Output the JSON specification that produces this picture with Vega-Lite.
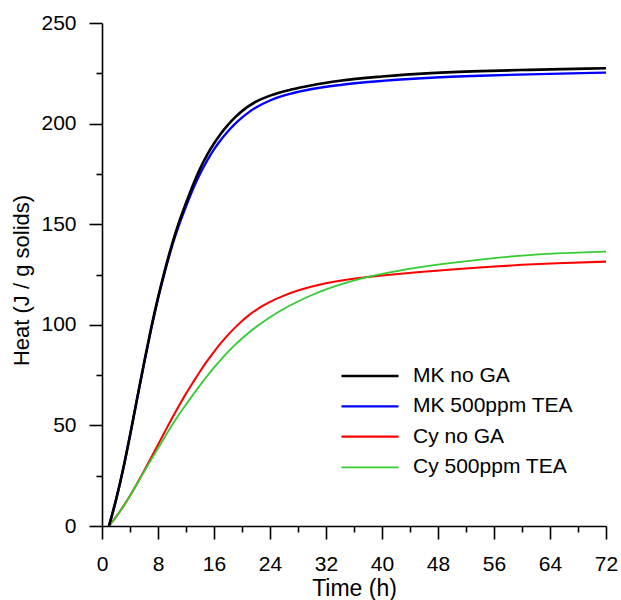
{
  "$schema": "https://vega.github.io/schema/vega-lite/v6.json",
  "width": 504,
  "height": 503,
  "autosize": "none",
  "padding": {"left": 102, "top": 23, "right": 15, "bottom": 74},
  "background": "white",
  "config": {
    "view": {"stroke": null},
    "font": "Liberation Sans",
    "axis": {
      "grid": false,
      "domainColor": "black",
      "domainWidth": 1.6,
      "tickColor": "black",
      "tickWidth": 1.6,
      "labelColor": "black",
      "titleColor": "black",
      "labelFont": "Liberation Sans",
      "titleFont": "Liberation Sans",
      "labelFontSize": 21,
      "titleFontSize": 22,
      "titleFontWeight": "normal"
    }
  },
  "datasets": {
    "curves": [
      {"series": "MK no GA", "t": 1, "heat": 0},
      {"series": "MK no GA", "t": 2, "heat": 13},
      {"series": "MK no GA", "t": 3, "heat": 28},
      {"series": "MK no GA", "t": 4, "heat": 45},
      {"series": "MK no GA", "t": 5, "heat": 63},
      {"series": "MK no GA", "t": 6, "heat": 81},
      {"series": "MK no GA", "t": 7, "heat": 98},
      {"series": "MK no GA", "t": 8, "heat": 113.5},
      {"series": "MK no GA", "t": 9, "heat": 127.5},
      {"series": "MK no GA", "t": 10, "heat": 140},
      {"series": "MK no GA", "t": 11, "heat": 151},
      {"series": "MK no GA", "t": 12, "heat": 160.5},
      {"series": "MK no GA", "t": 13, "heat": 169.5},
      {"series": "MK no GA", "t": 14, "heat": 177.5},
      {"series": "MK no GA", "t": 15, "heat": 184.3},
      {"series": "MK no GA", "t": 16, "heat": 190.1},
      {"series": "MK no GA", "t": 17, "heat": 195.1},
      {"series": "MK no GA", "t": 18, "heat": 199.4},
      {"series": "MK no GA", "t": 19, "heat": 203.1},
      {"series": "MK no GA", "t": 20, "heat": 206.2},
      {"series": "MK no GA", "t": 21, "heat": 208.8},
      {"series": "MK no GA", "t": 22, "heat": 210.9},
      {"series": "MK no GA", "t": 24, "heat": 213.9},
      {"series": "MK no GA", "t": 27, "heat": 216.9},
      {"series": "MK no GA", "t": 30, "heat": 219.1},
      {"series": "MK no GA", "t": 34, "heat": 221.3},
      {"series": "MK no GA", "t": 40, "heat": 223.4},
      {"series": "MK no GA", "t": 47, "heat": 225.1},
      {"series": "MK no GA", "t": 54, "heat": 226.1},
      {"series": "MK no GA", "t": 61, "heat": 226.7},
      {"series": "MK no GA", "t": 72, "heat": 227.5},

      {"series": "MK 500ppm TEA", "t": 1, "heat": 0},
      {"series": "MK 500ppm TEA", "t": 2, "heat": 13},
      {"series": "MK 500ppm TEA", "t": 3, "heat": 28},
      {"series": "MK 500ppm TEA", "t": 4, "heat": 45},
      {"series": "MK 500ppm TEA", "t": 5, "heat": 63},
      {"series": "MK 500ppm TEA", "t": 6, "heat": 80.5},
      {"series": "MK 500ppm TEA", "t": 7, "heat": 97.5},
      {"series": "MK 500ppm TEA", "t": 8, "heat": 113},
      {"series": "MK 500ppm TEA", "t": 9, "heat": 126.5},
      {"series": "MK 500ppm TEA", "t": 10, "heat": 139},
      {"series": "MK 500ppm TEA", "t": 11, "heat": 149.5},
      {"series": "MK 500ppm TEA", "t": 12, "heat": 158.8},
      {"series": "MK 500ppm TEA", "t": 13, "heat": 167.5},
      {"series": "MK 500ppm TEA", "t": 14, "heat": 175},
      {"series": "MK 500ppm TEA", "t": 15, "heat": 181.5},
      {"series": "MK 500ppm TEA", "t": 16, "heat": 187.2},
      {"series": "MK 500ppm TEA", "t": 17, "heat": 192},
      {"series": "MK 500ppm TEA", "t": 18, "heat": 196.2},
      {"series": "MK 500ppm TEA", "t": 19, "heat": 199.9},
      {"series": "MK 500ppm TEA", "t": 20, "heat": 203},
      {"series": "MK 500ppm TEA", "t": 21, "heat": 205.7},
      {"series": "MK 500ppm TEA", "t": 22, "heat": 208},
      {"series": "MK 500ppm TEA", "t": 24, "heat": 211.5},
      {"series": "MK 500ppm TEA", "t": 27, "heat": 214.9},
      {"series": "MK 500ppm TEA", "t": 30, "heat": 217.2},
      {"series": "MK 500ppm TEA", "t": 34, "heat": 219.2},
      {"series": "MK 500ppm TEA", "t": 40, "heat": 221.2},
      {"series": "MK 500ppm TEA", "t": 47, "heat": 222.8},
      {"series": "MK 500ppm TEA", "t": 54, "heat": 223.8},
      {"series": "MK 500ppm TEA", "t": 61, "heat": 224.5},
      {"series": "MK 500ppm TEA", "t": 72, "heat": 225.3},

      {"series": "Cy no GA", "t": 1, "heat": 0},
      {"series": "Cy no GA", "t": 2, "heat": 4.5},
      {"series": "Cy no GA", "t": 3, "heat": 9.5},
      {"series": "Cy no GA", "t": 4, "heat": 15},
      {"series": "Cy no GA", "t": 5, "heat": 21},
      {"series": "Cy no GA", "t": 6, "heat": 27.3},
      {"series": "Cy no GA", "t": 7, "heat": 33.8},
      {"series": "Cy no GA", "t": 8, "heat": 40.4},
      {"series": "Cy no GA", "t": 9, "heat": 47},
      {"series": "Cy no GA", "t": 10, "heat": 53.5},
      {"series": "Cy no GA", "t": 11, "heat": 59.8},
      {"series": "Cy no GA", "t": 12, "heat": 65.8},
      {"series": "Cy no GA", "t": 13, "heat": 71.4},
      {"series": "Cy no GA", "t": 14, "heat": 76.8},
      {"series": "Cy no GA", "t": 15, "heat": 81.9},
      {"series": "Cy no GA", "t": 16, "heat": 86.6},
      {"series": "Cy no GA", "t": 17, "heat": 91},
      {"series": "Cy no GA", "t": 18, "heat": 95},
      {"series": "Cy no GA", "t": 19, "heat": 98.6},
      {"series": "Cy no GA", "t": 20, "heat": 101.9},
      {"series": "Cy no GA", "t": 21, "heat": 104.8},
      {"series": "Cy no GA", "t": 22, "heat": 107.3},
      {"series": "Cy no GA", "t": 23, "heat": 109.5},
      {"series": "Cy no GA", "t": 24, "heat": 111.4},
      {"series": "Cy no GA", "t": 26, "heat": 114.5},
      {"series": "Cy no GA", "t": 28, "heat": 117},
      {"series": "Cy no GA", "t": 30, "heat": 119},
      {"series": "Cy no GA", "t": 32, "heat": 120.6},
      {"series": "Cy no GA", "t": 34, "heat": 121.9},
      {"series": "Cy no GA", "t": 37, "heat": 123.4},
      {"series": "Cy no GA", "t": 40, "heat": 124.5},
      {"series": "Cy no GA", "t": 45, "heat": 126.1},
      {"series": "Cy no GA", "t": 50, "heat": 127.5},
      {"series": "Cy no GA", "t": 55, "heat": 128.7},
      {"series": "Cy no GA", "t": 60, "heat": 129.8},
      {"series": "Cy no GA", "t": 65, "heat": 130.6},
      {"series": "Cy no GA", "t": 72, "heat": 131.4},

      {"series": "Cy 500ppm TEA", "t": 1, "heat": 0},
      {"series": "Cy 500ppm TEA", "t": 2, "heat": 4.5},
      {"series": "Cy 500ppm TEA", "t": 3, "heat": 9.5},
      {"series": "Cy 500ppm TEA", "t": 4, "heat": 15},
      {"series": "Cy 500ppm TEA", "t": 5, "heat": 21},
      {"series": "Cy 500ppm TEA", "t": 6, "heat": 27},
      {"series": "Cy 500ppm TEA", "t": 7, "heat": 32.8},
      {"series": "Cy 500ppm TEA", "t": 8, "heat": 38.6},
      {"series": "Cy 500ppm TEA", "t": 9, "heat": 44.4},
      {"series": "Cy 500ppm TEA", "t": 10, "heat": 50.1},
      {"series": "Cy 500ppm TEA", "t": 11, "heat": 55.4},
      {"series": "Cy 500ppm TEA", "t": 12, "heat": 60.4},
      {"series": "Cy 500ppm TEA", "t": 13, "heat": 65.2},
      {"series": "Cy 500ppm TEA", "t": 14, "heat": 69.9},
      {"series": "Cy 500ppm TEA", "t": 15, "heat": 74.4},
      {"series": "Cy 500ppm TEA", "t": 16, "heat": 78.7},
      {"series": "Cy 500ppm TEA", "t": 17, "heat": 82.7},
      {"series": "Cy 500ppm TEA", "t": 18, "heat": 86.5},
      {"series": "Cy 500ppm TEA", "t": 19, "heat": 90},
      {"series": "Cy 500ppm TEA", "t": 20, "heat": 93.2},
      {"series": "Cy 500ppm TEA", "t": 21, "heat": 96.2},
      {"series": "Cy 500ppm TEA", "t": 22, "heat": 98.9},
      {"series": "Cy 500ppm TEA", "t": 24, "heat": 103.8},
      {"series": "Cy 500ppm TEA", "t": 26, "heat": 108},
      {"series": "Cy 500ppm TEA", "t": 28, "heat": 111.6},
      {"series": "Cy 500ppm TEA", "t": 30, "heat": 114.8},
      {"series": "Cy 500ppm TEA", "t": 32, "heat": 117.6},
      {"series": "Cy 500ppm TEA", "t": 34, "heat": 120},
      {"series": "Cy 500ppm TEA", "t": 37, "heat": 123},
      {"series": "Cy 500ppm TEA", "t": 40, "heat": 125.3},
      {"series": "Cy 500ppm TEA", "t": 45, "heat": 128.4},
      {"series": "Cy 500ppm TEA", "t": 50, "heat": 130.8},
      {"series": "Cy 500ppm TEA", "t": 55, "heat": 132.8},
      {"series": "Cy 500ppm TEA", "t": 60, "heat": 134.4},
      {"series": "Cy 500ppm TEA", "t": 65, "heat": 135.5},
      {"series": "Cy 500ppm TEA", "t": 72, "heat": 136.4}
    ]
  },
  "data": {"name": "curves"},
  "encoding": {
    "x": {
      "field": "t",
      "type": "quantitative",
      "title": "Time (h)",
      "scale": {"domain": [0, 72], "nice": false, "zero": false},
      "axis": {
        "values": [0, 4, 8, 12, 16, 20, 24, 28, 32, 36, 40, 44, 48, 52, 56, 60, 64, 68, 72],
        "labelExpr": "datum.value % 8 === 0 ? datum.label : ''",
        "tickSize": {"condition": {"test": "datum.value % 8 === 0", "value": 13}, "value": 6},
        "labelPadding": 14,
        "labelFlush": false,
        "labelOverlap": false,
        "titleFontSize": 23,
        "titleBaseline": "alphabetic",
        "titleY": 69
      }
    },
    "y": {
      "field": "heat",
      "type": "quantitative",
      "title": "Heat (J / g solids)",
      "scale": {"domain": [0, 250], "nice": false},
      "axis": {
        "values": [0, 25, 50, 75, 100, 125, 150, 175, 200, 225, 250],
        "labelExpr": "datum.value % 50 === 0 ? datum.label : ''",
        "tickSize": {"condition": {"test": "datum.value % 50 === 0", "value": 13}, "value": 6},
        "labelPadding": 13,
        "labelFlush": false,
        "labelOverlap": false,
        "titleBaseline": "alphabetic",
        "titleX": -74,
        "titleY": 257,
        "titleAlign": "center",
        "titleAngle": -90
      }
    },
    "color": {
      "field": "series",
      "type": "nominal",
      "title": null,
      "scale": {
        "domain": ["MK no GA", "MK 500ppm TEA", "Cy no GA", "Cy 500ppm TEA"],
        "range": ["#000000", "#0000ff", "#ff0000", "#33cc33"]
      },
      "legend": {
        "orient": "none",
        "legendX": 257,
        "legendY": 342,
        "symbolType": "M-3,0H3",
        "symbolSize": 361,
        "labelFontSize": 21,
        "labelFont": "Liberation Sans",
        "labelColor": "black",
        "labelOffset": 32,
        "rowPadding": 9.3,
        "padding": 0
      }
    },
    "strokeWidth": {
      "field": "series",
      "type": "nominal",
      "title": null,
      "scale": {
        "domain": ["MK no GA", "MK 500ppm TEA", "Cy no GA", "Cy 500ppm TEA"],
        "range": [2.6, 1.8, 1.8, 1.8]
      },
      "legend": {
        "orient": "none",
        "legendX": 257,
        "legendY": 342,
        "symbolType": "M-3,0H3",
        "symbolSize": 361,
        "labelFontSize": 21,
        "labelFont": "Liberation Sans",
        "labelColor": "black",
        "labelOffset": 32,
        "rowPadding": 9.3,
        "padding": 0
      }
    }
  },
  "layer": [
    {
      "transform": [{"filter": "datum.series !== 'MK no GA'"}],
      "mark": {"type": "line", "interpolate": "monotone"}
    },
    {
      "transform": [{"filter": "datum.series === 'MK no GA'"}],
      "mark": {"type": "line", "interpolate": "monotone"}
    }
  ]
}
